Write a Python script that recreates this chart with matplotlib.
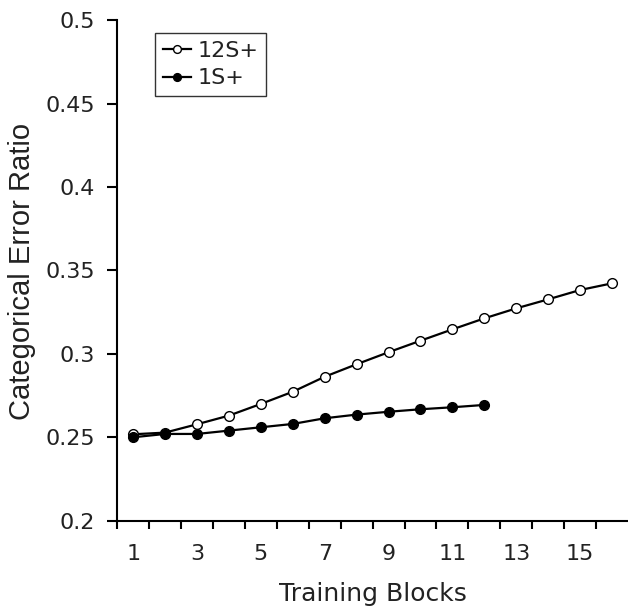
import numpy as np
import matplotlib.pyplot as plt

# data
blocks_12 = np.arange(1, 17)
err_12 = [0.2518, 0.2528, 0.2578, 0.263, 0.270, 0.2773, 0.2863, 0.2938,
          0.301, 0.3079, 0.3147, 0.3213, 0.3273, 0.3327, 0.3383, 0.3423]
blocks_1 = np.arange(1, 13)
err_1 = [0.250, 0.252, 0.252, 0.254, 0.256, 0.258, 0.2614, 0.2636,
         0.2653, 0.2668, 0.268, 0.2694]
xtick_labels = [1, 3, 5, 7, 9, 11, 13, 15]
yticks = [0.2, 0.25, 0.3, 0.35, 0.4, 0.45, 0.5]

plt.rcParams['font.family'] = 'DejaVu Sans'
fig = plt.figure(figsize=(6.28, 6.13), dpi=100)
ax = fig.add_axes([0.1866, 0.1506, 0.8134, 0.8163])

ax.plot(blocks_12, err_12, color='black', lw=1.6, marker='o', ms=7,
        mfc='white', mec='black', mew=1.0, label='12S+')
ax.plot(blocks_1, err_1, color='black', lw=1.6, marker='o', ms=7,
        mfc='black', mec='black', label='1S+')

ax.set_xlim(0.5, 16.5)
ax.set_ylim(0.2, 0.5)
ax.set_yticks(yticks)
ax.set_yticklabels([('%g' % v) for v in yticks])
ax.set_xticks(xtick_labels)
ax.set_xticks(np.arange(0.5, 16.5, 1), minor=True)
ax.tick_params(axis='x', which='major', length=0, pad=17, labelsize=16, labelcolor='#222222')
ax.tick_params(axis='x', which='minor', length=6, width=1.5, direction='out')
ax.tick_params(axis='y', length=7, width=1.5, direction='out', labelsize=16,
               pad=9, labelcolor='#222222')

for s in ['top', 'right']:
    ax.spines[s].set_visible(False)
for s in ['left', 'bottom']:
    ax.spines[s].set_linewidth(1.5)

ax.set_xlabel('Training Blocks', fontsize=18, labelpad=13, color='#222222')
# y title sits well left of the tick labels, in a narrower face
fig.text(22.5 / 628, 1 - 271 / 613, 'Categorical Error Ratio', rotation=90,
         ha='center', va='center', fontsize=21, family='Liberation Sans',
         color='#222222')

leg = ax.legend(loc='upper left', bbox_to_anchor=(0.074, 0.975), fontsize=16,
                frameon=True, fancybox=False, handlelength=1.25, handletextpad=0.3,
                borderpad=0.35, labelspacing=0.35, borderaxespad=0, markerscale=0.8)
leg.get_frame().set_edgecolor('black')
leg.get_frame().set_linewidth(1.0)
for t in leg.get_texts():
    t.set_color('#222222')

fig.savefig('out.png', dpi=100)
